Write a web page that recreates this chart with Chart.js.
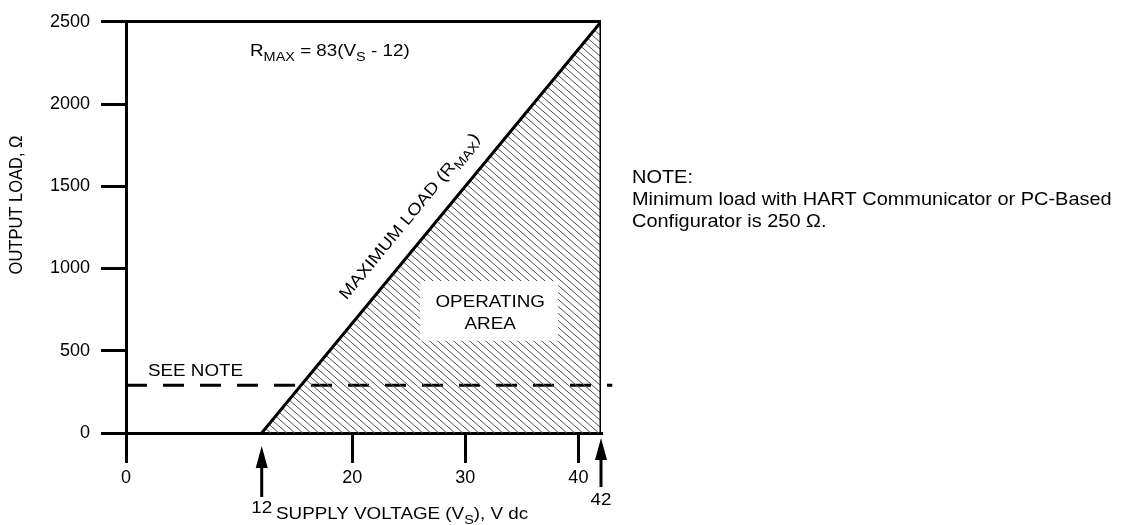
<!DOCTYPE html>
<html><head><meta charset="utf-8">
<script src="https://cdn.jsdelivr.net/npm/chart.js@4/dist/chart.umd.min.js"></script>
<style>html,body{margin:0;padding:0;background:#fff}#wrap{width:1145px;height:525px;position:relative}canvas{display:block}</style>
</head><body><div id="wrap"><canvas id="c" width="1145" height="525"></canvas></div>
<script>
// ---- data ----
const xTickValues = [0, 20, 30, 40];
const yTickValues = [0, 500, 1000, 1500, 2000, 2500];
const xRange = [0, 42];
const yRange = [0, 2500];
const rmaxX = [12, 42, 42];          // boundary of operating area (V)
const rmaxY = [0, 2500, 0];          // R_MAX (ohm)
const seeNoteX = [0, 43];
const seeNoteY = [290, 290];
const arrowValues = [12, 42];
const arrowLabels = ['12', '42'];

const FONT = "'Liberation Sans', Arial, Helvetica, sans-serif";
const SX = 1.14;
Chart.defaults.font.family = FONT;
Chart.defaults.color = '#000';

const canvas = document.getElementById('c');
const mainCtx = canvas.getContext('2d');
function hatchPattern() {
  const w = 8, h = 7;
  const t = document.createElement('canvas'); t.width = w; t.height = h;
  const g = t.getContext('2d');
  g.strokeStyle = '#555'; g.lineWidth = 1;
  g.beginPath();
  g.moveTo(-w, -h); g.lineTo(2 * w, 2 * h);
  g.moveTo(-w, 0); g.lineTo(w, 2 * h);
  g.moveTo(0, -h); g.lineTo(2 * w, h);
  g.stroke();
  return mainCtx.createPattern(t, 'repeat');
}

function rich(ctx, segs, x, y, size, align) {
  ctx.save();
  ctx.fillStyle = '#000';
  ctx.textBaseline = 'alphabetic';
  ctx.textAlign = 'left';
  let w = 0;
  segs.forEach(s => { ctx.font = (s.sub ? size * 0.77 : size) + 'px ' + FONT; w += ctx.measureText(s.t).width; });
  let x0 = align === 'center' ? x - w * SX / 2 : align === 'right' ? x - w * SX : x;
  ctx.translate(x0, y); ctx.scale(SX, 1);
  let cx = 0;
  segs.forEach(s => {
    ctx.font = (s.sub ? size * 0.77 : size) + 'px ' + FONT;
    ctx.fillText(s.t, cx, s.sub ? size * 0.28 : 0);
    cx += ctx.measureText(s.t).width;
  });
  ctx.restore();
}

const decor = {
  id: 'decor',
  afterDatasetsDraw(chart) {
    const ctx = chart.ctx, xs = chart.scales.x, ys = chart.scales.y;
    const bx0 = xs.getPixelForValue(26.0), bx1 = xs.getPixelForValue(38.2);
    const by0 = ys.getPixelForValue(923), by1 = ys.getPixelForValue(560);
    ctx.save(); ctx.fillStyle = '#fff'; ctx.fillRect(bx0, by0, bx1 - bx0, by1 - by0); ctx.restore();
    const cx = xs.getPixelForValue(32.2);
    rich(ctx, [{t: 'OPERATING'}], cx, ys.getPixelForValue(801) + 6, 16.5, 'center');
    rich(ctx, [{t: 'AREA'}], cx, ys.getPixelForValue(668) + 6, 16.5, 'center');
  },
  afterDraw(chart) {
    const ctx = chart.ctx, xs = chart.scales.x, ys = chart.scales.y;
    rich(ctx, [{t: 'R'}, {t: 'MAX', sub: true}, {t: ' = 83(V'}, {t: 'S', sub: true}, {t: ' - 12)'}],
      250, 56, 16.5, 'left');
    // SEE NOTE label above the minimum-load line
    rich(ctx, [{t: 'SEE NOTE'}], 148, ys.getPixelForValue(seeNoteY[0]) - 9, 16.5, 'left');
    // rotated label along R_MAX line
    const p0x = xs.getPixelForValue(rmaxX[0]), p0y = ys.getPixelForValue(rmaxY[0]);
    const p1x = xs.getPixelForValue(rmaxX[1]), p1y = ys.getPixelForValue(rmaxY[1]);
    const ang = Math.atan2(p1y - p0y, p1x - p0x);
    const tt = 0.49;
    const mx = p0x + (p1x - p0x) * tt, my = p0y + (p1y - p0y) * tt;
    const nx = Math.sin(ang), ny = -Math.cos(ang);
    ctx.save();
    ctx.translate(mx + nx * 19, my + ny * 19);
    ctx.rotate(ang);
    rich(ctx, [{t: 'MAXIMUM LOAD (R'}, {t: 'MAX', sub: true}, {t: ')'}], 0, 0, 16.5, 'center');
    ctx.restore();
    // arrows below axis
    const tipY = [446, 438], endY = [497, 487], labY = [513, 505];
    arrowValues.forEach((v, i) => {
      const ax = xs.getPixelForValue(v);
      ctx.save();
      ctx.fillStyle = '#000'; ctx.strokeStyle = '#000'; ctx.lineWidth = 3;
      ctx.beginPath(); ctx.moveTo(ax, tipY[i] + 18); ctx.lineTo(ax, endY[i]); ctx.stroke();
      ctx.beginPath(); ctx.moveTo(ax, tipY[i]); ctx.lineTo(ax - 6, tipY[i] + 22); ctx.lineTo(ax + 6, tipY[i] + 22); ctx.closePath(); ctx.fill();
      ctx.restore();
      rich(ctx, [{t: arrowLabels[i]}], ax, labY[i], 16.5, 'center');
    });
    rich(ctx, [{t: 'SUPPLY VOLTAGE (V'}, {t: 'S', sub: true}, {t: '), V dc'}], 276, 519, 16.5, 'left');
    ctx.save();
    ctx.translate(22, 205);
    ctx.rotate(-Math.PI / 2);
    ctx.scale(1, SX);
    ctx.font = '16.5px ' + FONT; ctx.fillStyle = '#000'; ctx.textAlign = 'center'; ctx.textBaseline = 'alphabetic';
    ctx.fillText('OUTPUT LOAD, \u03A9', 0, 0);
    ctx.restore();
    rich(ctx, [{t: 'NOTE:'}], 632, 183, 17.5, 'left');
    rich(ctx, [{t: 'Minimum load with HART Communicator or PC-Based'}], 632, 205, 17.5, 'left');
    rich(ctx, [{t: 'Configurator is 250 \u03A9.'}], 632, 227, 17.5, 'left');
  }
};

new Chart(canvas, {
  type: 'line',
  data: {
    datasets: [
      {
        data: rmaxX.map((x, i) => ({x, y: rmaxY[i]})),
        borderColor: '#000', borderWidth: 3, borderJoinStyle: 'miter',
        backgroundColor: hatchPattern(), fill: 'origin',
        pointRadius: 0, tension: 0
      },
      {
        data: seeNoteX.map((x, i) => ({x, y: seeNoteY[i]})),
        borderColor: '#000', borderWidth: 3, borderDash: [21, 16], borderCapStyle: 'butt',
        fill: false, pointRadius: 0, clip: false
      }
    ]
  },
  options: {
    responsive: false, animation: false, devicePixelRatio: 1,
    layout: {padding: {top: 19, right: 544, left: 0, bottom: 0}},
    plugins: {legend: {display: false}, tooltip: {enabled: false}},
    scales: {
      x: {
        type: 'linear', min: xRange[0], max: xRange[1],
        afterBuildTicks: s => { s.ticks = xTickValues.map(v => ({value: v})); },
        afterFit: s => { s.height = 92; },
        grid: {drawOnChartArea: false, color: '#000', lineWidth: 3, tickLength: 30},
        border: {display: true, color: '#000', width: 3},
        ticks: {padding: 4, font: {size: 18}, color: '#000', maxRotation: 0, autoSkip: false, callback: v => String(v)}
      },
      y: {
        type: 'linear', min: yRange[0], max: yRange[1],
        afterBuildTicks: s => { s.ticks = yTickValues.map(v => ({value: v})); },
        afterFit: s => { s.width = 126; },
        grid: {
          drawOnChartArea: true,
          color: c => (c.tick && c.tick.value === yRange[1]) ? '#000' : 'rgba(0,0,0,0)',
          tickColor: '#000', lineWidth: 3, tickLength: 25
        },
        border: {display: true, color: '#000', width: 3},
        ticks: {padding: 11, font: {size: 18}, color: '#000', autoSkip: false, callback: v => String(v)}
      }
    }
  },
  plugins: [decor]
});
</script>
</body></html>
